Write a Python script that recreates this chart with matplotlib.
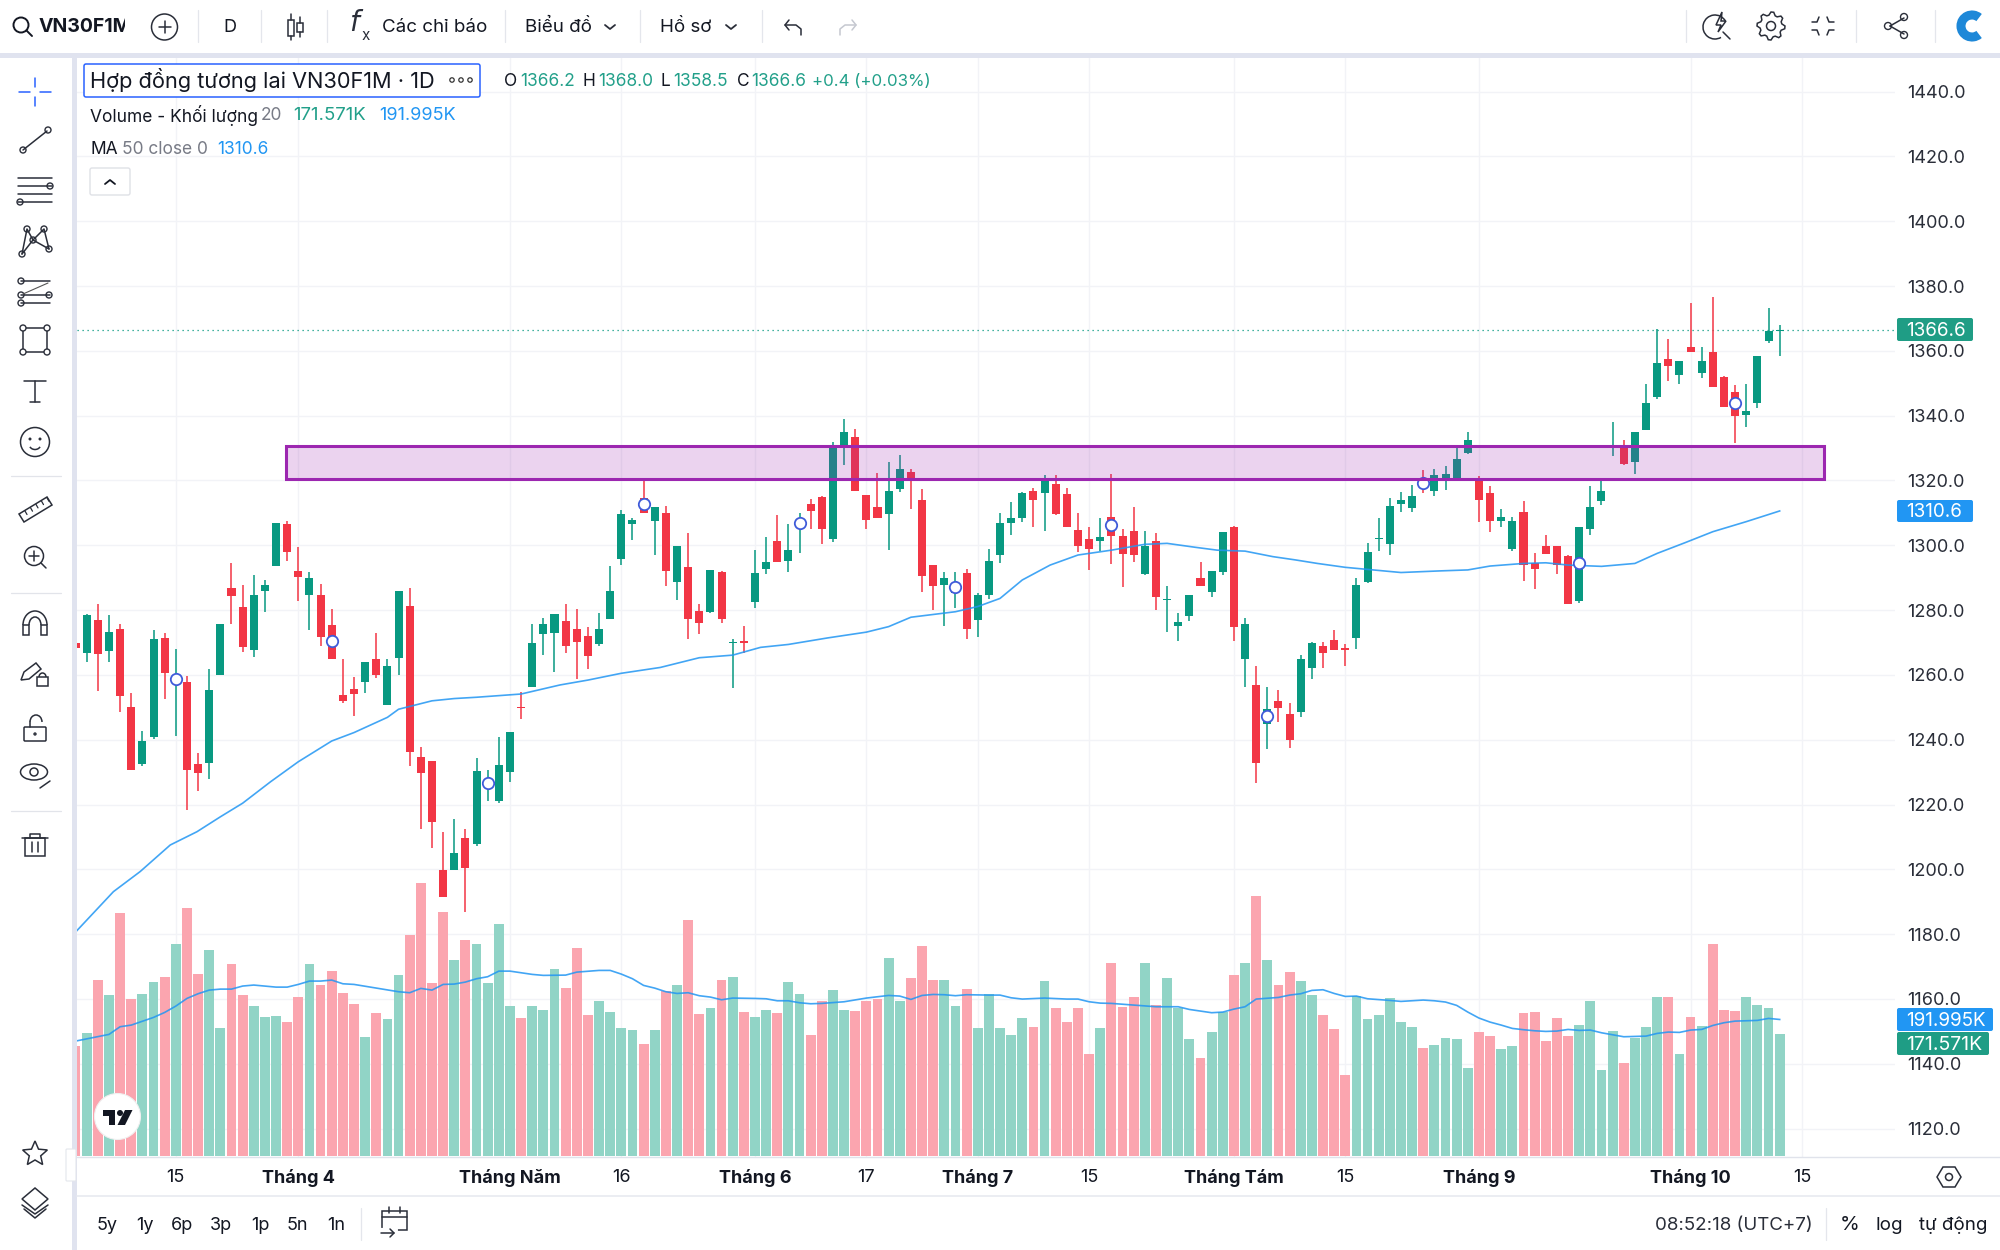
import matplotlib
matplotlib.use("Agg")
import matplotlib.pyplot as plt
from matplotlib.patches import Rectangle, Circle, FancyBboxPatch, Polygon, Ellipse, Arc
import numpy as np

plt.rcParams['font.family'] = ['Inter', 'DejaVu Sans']

# candles, index 0 is the one cut off by the left edge
opens = [1270.0, 1266.8, 1276.8, 1267.5, 1274.3, 1250.0, 1232.6, 1240.7, 1271.5, 1257.9,
         1257.8, 1232.6, 1232.8, 1260.1, 1286.9, 1281.0, 1267.8, 1285.8, 1293.7, 1306.7,
         1292.1, 1284.7, 1284.6, 1275.3, 1253.8, 1255.8, 1257.7, 1264.8, 1250.7, 1265.3,
         1281.4, 1234.6, 1233.5, 1199.9, 1199.9, 1209.8, 1207.8, 1225.7, 1221.2, 1230.1,
         1250.1, 1256.3, 1272.7, 1272.8, 1276.7, 1274.1, 1271.9, 1269.4, 1277.1, 1295.7,
         1306.6, 1314.5, 1307.4, 1310.1, 1288.6, 1293.3, 1279.6, 1279.5, 1291.9, 1269.7,
         1270.4, 1282.6, 1292.6, 1301.2, 1295.3, 1306.0, 1312.9, 1314.8, 1302.0, 1330.9,
         1333.4, 1315.4, 1311.9, 1309.8, 1317.5, 1322.5, 1314.0, 1293.8, 1287.7, 1285.2,
         1291.5, 1277.0, 1284.6, 1297.0, 1306.9, 1308.3, 1316.9, 1316.0, 1318.8, 1315.8,
         1304.7, 1301.8, 1301.3, 1308.7, 1302.9, 1304.3, 1291.1, 1301.2, 1283.2, 1275.1,
         1278.3, 1289.8, 1285.7, 1291.8, 1305.7, 1265.0, 1256.9, 1244.7, 1251.9, 1248.0,
         1248.7, 1262.1, 1268.9, 1270.7, 1268.1, 1271.4, 1288.6, 1301.8, 1300.5, 1312.6,
         1311.4, 1320.4, 1316.7, 1320.5, 1320.7, 1328.6, 1320.8, 1316.0, 1307.4, 1298.9,
         1310.4, 1294.4, 1299.8, 1299.8, 1296.8, 1282.8, 1305.0, 1313.8, 1330.0, 1330.6,
         1325.8, 1335.6, 1345.8, 1357.6, 1352.5, 1361.2, 1353.2, 1359.8, 1351.8, 1347.4,
         1340.1, 1343.8, 1363.2, 1366.2]
highs = [1270.6, 1278.8, 1281.9, 1278.5, 1275.7, 1254.3, 1242.8, 1273.9, 1272.8, 1267.9,
         1259.7, 1235.8, 1261.7, 1275.7, 1294.6, 1287.8, 1290.7, 1289.3, 1306.9, 1307.5,
         1299.4, 1291.8, 1288.0, 1280.2, 1264.8, 1259.5, 1264.1, 1272.8, 1264.8, 1285.9,
         1286.7, 1237.7, 1233.5, 1211.5, 1215.4, 1212.3, 1234.3, 1230.6, 1240.9, 1242.3,
         1254.8, 1275.6, 1277.5, 1278.7, 1281.9, 1280.2, 1274.9, 1279.2, 1293.6, 1310.9,
         1308.3, 1319.9, 1311.9, 1312.1, 1299.8, 1303.9, 1281.8, 1292.3, 1292.2, 1271.2,
         1275.1, 1298.6, 1302.7, 1309.5, 1306.6, 1309.9, 1314.2, 1315.2, 1331.9, 1338.9,
         1335.8, 1315.5, 1322.3, 1325.7, 1327.9, 1323.6, 1317.4, 1293.8, 1291.7, 1291.9,
         1292.6, 1285.4, 1298.9, 1309.9, 1313.3, 1316.6, 1317.7, 1321.8, 1321.8, 1317.8,
         1309.9, 1305.5, 1308.5, 1321.9, 1304.9, 1311.7, 1304.5, 1303.7, 1287.4, 1279.0,
         1284.8, 1294.7, 1292.2, 1304.1, 1306.0, 1277.7, 1262.9, 1256.2, 1255.3, 1251.2,
         1266.2, 1270.3, 1270.3, 1273.9, 1269.4, 1289.9, 1300.6, 1308.5, 1314.7, 1316.5,
         1318.6, 1323.2, 1323.4, 1324.5, 1329.9, 1334.9, 1321.4, 1318.4, 1311.1, 1308.8,
         1313.6, 1297.5, 1303.3, 1299.9, 1297.0, 1305.5, 1318.4, 1320.2, 1338.2, 1332.5,
         1335.0, 1349.9, 1366.7, 1363.7, 1356.8, 1374.7, 1361.3, 1376.7, 1352.4, 1349.4,
         1349.9, 1358.3, 1373.3, 1368.0]
lows = [1267.6, 1264.1, 1255.1, 1264.1, 1248.6, 1230.6, 1231.9, 1240.1, 1252.6, 1241.1,
        1218.3, 1224.3, 1228.0, 1260.1, 1275.7, 1267.0, 1265.4, 1279.5, 1293.7, 1295.2,
        1282.9, 1274.0, 1269.0, 1264.8, 1251.3, 1247.2, 1254.3, 1258.9, 1250.7, 1260.0,
        1232.0, 1212.3, 1206.5, 1191.5, 1199.9, 1186.9, 1207.2, 1221.0, 1220.4, 1226.8,
        1246.5, 1256.3, 1266.2, 1260.9, 1266.9, 1258.6, 1261.7, 1269.0, 1277.1, 1293.9,
        1301.6, 1309.9, 1296.9, 1287.5, 1283.0, 1271.2, 1272.5, 1279.2, 1276.0, 1256.1,
        1266.7, 1280.8, 1291.2, 1294.7, 1291.9, 1297.7, 1305.0, 1300.4, 1301.1, 1324.7,
        1316.9, 1305.0, 1308.3, 1298.7, 1316.3, 1311.2, 1285.6, 1280.0, 1275.0, 1280.5,
        1271.0, 1271.6, 1283.3, 1294.4, 1303.3, 1307.1, 1305.6, 1304.4, 1309.4, 1305.5,
        1298.0, 1292.4, 1298.2, 1294.2, 1287.2, 1294.9, 1290.9, 1279.9, 1273.2, 1270.6,
        1276.6, 1287.5, 1284.1, 1290.9, 1270.6, 1256.2, 1226.5, 1237.0, 1245.5, 1237.3,
        1247.1, 1258.7, 1262.1, 1267.7, 1262.9, 1267.9, 1288.3, 1298.2, 1297.1, 1310.2,
        1310.2, 1316.2, 1315.2, 1317.1, 1320.4, 1328.1, 1307.2, 1304.2, 1305.7, 1298.3,
        1289.0, 1286.4, 1297.4, 1291.1, 1281.8, 1282.1, 1303.1, 1312.5, 1327.7, 1324.7,
        1322.0, 1335.6, 1345.2, 1350.7, 1349.7, 1359.8, 1351.6, 1348.9, 1342.8, 1331.7,
        1336.6, 1342.5, 1362.3, 1358.5]
closes = [1268.2, 1278.4, 1266.5, 1273.1, 1253.6, 1230.6, 1239.5, 1271.1, 1260.7, 1259.4,
          1230.6, 1229.8, 1255.4, 1275.6, 1284.2, 1268.7, 1284.8, 1287.8, 1306.9, 1298.0,
          1290.2, 1289.9, 1271.7, 1264.8, 1251.8, 1254.1, 1264.0, 1259.9, 1262.8, 1285.9,
          1236.1, 1229.8, 1214.5, 1191.5, 1204.9, 1200.3, 1230.2, 1227.5, 1232.2, 1242.3,
          1249.8, 1269.7, 1275.7, 1278.7, 1268.9, 1270.2, 1265.8, 1274.3, 1285.9, 1309.6,
          1307.7, 1310.1, 1311.9, 1292.0, 1299.8, 1277.4, 1276.0, 1292.3, 1277.2, 1270.0,
          1269.7, 1291.5, 1294.8, 1294.7, 1298.5, 1308.0, 1310.7, 1305.0, 1330.7, 1334.9,
          1316.9, 1307.8, 1308.3, 1316.9, 1323.6, 1320.7, 1290.5, 1287.5, 1289.8, 1288.3,
          1274.1, 1284.7, 1295.1, 1306.8, 1308.5, 1316.1, 1313.9, 1320.4, 1309.7, 1305.5,
          1299.8, 1298.9, 1302.6, 1302.9, 1297.3, 1297.0, 1299.7, 1284.1, 1283.5, 1276.4,
          1284.8, 1287.5, 1292.2, 1304.1, 1274.9, 1275.7, 1232.8, 1249.4, 1249.8, 1239.9,
          1264.8, 1269.8, 1266.7, 1267.7, 1267.8, 1287.8, 1297.8, 1302.2, 1312.2, 1314.1,
          1315.2, 1317.6, 1321.6, 1322.0, 1326.5, 1332.5, 1313.9, 1307.5, 1308.8, 1307.5,
          1293.9, 1292.8, 1297.4, 1293.9, 1281.8, 1305.5, 1311.7, 1316.8, 1330.3, 1325.1,
          1335.0, 1343.8, 1356.4, 1355.2, 1356.8, 1359.8, 1357.0, 1348.9, 1342.8, 1339.8,
          1341.6, 1358.3, 1366.2, 1366.6]
# volume in K
volumes = [154.6, 173.3, 247.4, 225.8, 341.6, 220.2, 227.7, 244.6, 252.1, 297.5,
           349.1, 255.4, 289.6, 180.4, 269.9, 225.8, 210.8, 194.9, 196.8, 187.9,
           223.0, 269.9, 240.8, 260.5, 228.6, 214.1, 167.7, 200.5, 193.0, 253.9,
           310.2, 384.3, 243.6, 343.0, 276.0, 304.1, 297.5, 243.6, 325.7, 210.8,
           194.0, 210.8, 205.7, 262.4, 236.1, 292.9, 198.6, 218.3, 202.9, 180.4,
           176.6, 156.9, 176.6, 231.9, 240.8, 331.8, 199.6, 208.0, 247.4, 251.1,
           202.4, 194.9, 204.7, 201.5, 244.1, 227.7, 170.1, 217.9, 233.8, 204.7,
           203.8, 218.3, 221.1, 277.9, 217.4, 250.7, 295.7, 247.4, 247.4, 210.8,
           234.3, 180.4, 227.7, 179.4, 170.1, 194.0, 181.3, 245.5, 208.0, 187.9,
           207.6, 143.3, 179.4, 270.8, 209.0, 224.0, 270.8, 212.2, 250.7, 207.6,
           164.4, 137.2, 174.3, 202.9, 254.4, 270.8, 365.0, 276.0, 240.8, 259.1,
           245.5, 225.8, 197.7, 178.0, 113.8, 225.4, 192.6, 198.6, 222.1, 187.9,
           181.8, 151.8, 155.5, 166.3, 164.4, 123.7, 174.3, 168.6, 150.8, 154.6,
           200.5, 202.4, 161.6, 194.0, 168.6, 184.1, 217.4, 120.4, 176.1, 130.2,
           166.3, 180.8, 224.0, 223.0, 142.9, 195.8, 182.7, 298.0, 205.2, 203.3,
           224.0, 212.2, 208.0, 171.571]

# moving averages at these candle positions
ma_x = [0.1, 1, 3.4, 5.8, 8.5, 10.9, 13, 15, 17.5, 20, 23, 25, 28, 29, 32, 34, 36, 40, 43.5,
        46, 49, 52.5, 56, 59, 61.5, 64, 67.5, 71, 73, 75, 79, 81, 83, 85, 87.5, 90, 93, 96,
        98, 100.5, 102.5, 105, 107.5, 109.5, 111.5, 114, 116.5, 119, 122.5, 125, 127, 130,
        132, 134, 137, 140, 142, 144.5, 147, 150, 153]
ma_y = [1181.0, 1184.3, 1193.1, 1199.3, 1207.5, 1211.6, 1216.2, 1220.4, 1227.0, 1233.2, 1239.6,
        1242.2, 1246.9, 1249.4, 1252.0, 1252.7, 1253.1, 1254.1, 1256.9, 1258.4, 1260.5, 1262.3,
        1265.3, 1266.1, 1268.5, 1269.4, 1271.4, 1273.2, 1274.9, 1277.8, 1279.5, 1281.1, 1283.6,
        1289.3, 1293.9, 1297.0, 1298.5, 1300.3, 1300.6, 1299.4, 1298.5, 1298.2, 1296.5, 1295.5,
        1294.4, 1293.2, 1292.4, 1291.6, 1292.1, 1292.4, 1293.6, 1294.4, 1294.6, 1293.9, 1293.5,
        1294.4, 1297.5, 1300.8, 1304.2, 1307.3, 1310.6]
vol_ma_x = [0, 3, 4, 5, 7, 8, 9, 10, 11, 12, 13, 14, 15, 16, 18, 19, 20, 21, 22, 23, 24, 25, 27,
            29, 30, 31, 32, 33, 34, 35, 36, 37, 38, 39, 41, 42, 44, 45, 47, 48, 49, 50, 51, 52,
            53, 54, 55, 56, 57, 58, 59, 61, 62, 63, 64, 65, 66, 67, 69, 71, 73, 74, 75, 76, 77,
            78, 79, 80, 82, 83, 84, 85, 87, 89, 90, 91, 92, 93, 95, 97, 99, 100, 102, 103, 104,
            105, 106, 108, 109, 110, 111, 112, 113, 114, 115, 116, 118, 119, 121, 122, 123, 124,
            125, 126, 127, 128, 129, 130, 131, 132, 133, 134, 135, 136, 137, 138, 139, 141, 142,
            143, 144, 145, 146, 147, 148, 149, 151, 152, 153]
vol_ma_y = [161.6, 171.0, 181.8, 184.1, 194.9, 201.9, 210.8, 221.6, 228.2, 233.3, 234.7, 234.7,
            239.0, 240.4, 237.5, 237.5, 241.3, 246.0, 246.0, 247.4, 242.2, 241.3, 236.1, 231.0,
            229.6, 235.7, 233.3, 241.3, 241.8, 244.6, 249.3, 252.1, 260.0, 260.0, 255.4, 254.0,
            254.4, 258.6, 261.0, 261.0, 255.8, 249.3, 239.9, 236.1, 231.0, 228.6, 229.6, 225.4,
            223.5, 219.7, 222.1, 221.6, 221.1, 218.3, 218.3, 215.5, 214.1, 214.6, 216.9, 222.1,
            225.8, 224.9, 220.2, 225.8, 227.2, 226.8, 225.4, 226.8, 226.3, 226.3, 222.5, 220.7,
            222.1, 220.7, 220.7, 216.9, 215.0, 214.6, 212.2, 209.9, 209.9, 206.1, 201.5, 202.4,
            206.6, 209.9, 220.7, 223.0, 226.3, 228.2, 232.9, 233.8, 228.6, 224.4, 224.9, 221.1,
            218.8, 217.4, 219.3, 218.3, 216.5, 211.8, 202.4, 194.0, 188.3, 184.1, 179.4, 177.6,
            176.1, 175.2, 175.7, 178.0, 176.6, 177.1, 173.3, 170.5, 167.7, 168.6, 172.4, 174.3,
            173.8, 177.1, 178.0, 183.6, 187.4, 189.7, 190.7, 193.5, 192.0]

# the ringed candles every 14 sessions
ring_x = [9, 23, 37, 51, 65, 79, 93, 107, 121, 135, 149]
ring_y = [1258.6, 1270.4, 1226.7, 1312.6, 1307.0, 1287.0, 1306.2, 1247.3, 1319.1, 1294.4, 1343.8]

zone_x = [18.9, 157.0]
zone_y = [1320.5, 1330.55]
last_price = 1366.6

price_ticks = list(range(1120, 1460, 20))
date_ticks = [9, 20, 39, 49, 61, 71, 81, 91, 104, 114, 126, 145, 155]
date_labels = ['15', 'Tháng 4', 'Tháng Năm', '16', 'Tháng 6', '17', 'Tháng 7', '15',
               'Tháng Tám', '15', 'Tháng 9', 'Tháng 10', '15']

GREEN = '#089981'
RED = '#f23645'
PALE_GREEN = '#91d4c6'
PALE_RED = '#fba5af'
BLUE = '#2196f3'
DARK = '#131722'
GREY = '#787b86'
GRID = '#f2f3f7'
BAND = '#e0e3ef'
ICON = '#2a2e39'

W, H = 2000, 1250
X0, X1, Y0, Y1 = 77, 1895, 58, 1157
STEP = 11.138
PX_PRICE = 3.24
PX_VOL = 122 / 171.571

fig = plt.figure(figsize=(W / 100, H / 100), dpi=100, facecolor='white')
rect = [X0 / W, 1 - Y1 / H, (X1 - X0) / W, (Y1 - Y0) / H]

ax_vol = fig.add_axes(rect, zorder=1)
ax = fig.add_axes(rect, zorder=2)
ax.patch.set_alpha(0)

idx = np.arange(len(closes))
is_up = np.array(closes) >= np.array(opens)

# volume pane sits behind the price pane
ax_vol.bar(idx, volumes, width=0.88, color=[PALE_GREEN if u else PALE_RED for u in is_up])
ax_vol.plot(vol_ma_x, vol_ma_y, color=BLUE, lw=1.2, alpha=0.85)
ax_vol.set_ylim(-1 / PX_VOL, (Y1 - Y0 - 1) / PX_VOL)

col = [GREEN if u else RED for u in is_up]
ax.vlines(idx, lows, highs, colors=col, lw=1.1, zorder=3)
body_low = np.minimum(opens, closes)
body_h = np.abs(np.array(closes) - np.array(opens))
ax.bar(idx, np.maximum(body_h, 0.35), bottom=body_low, width=0.72, color=col, zorder=4)
ax.plot(ma_x, ma_y, color=BLUE, lw=1.2, alpha=0.85, zorder=5)
ax.plot(ring_x, ring_y, ls='none', marker='o', ms=8.2, mfc='white', mec='#3f5bd9', mew=1.3, zorder=6)
ax.axhline(last_price, color=GREEN, ls=(0, (1, 3)), lw=0.9, zorder=2)
ax.add_patch(Rectangle((zone_x[0], zone_y[0]), zone_x[1] - zone_x[0], zone_y[1] - zone_y[0],
                       facecolor=(0.612, 0.153, 0.69, 0.2), edgecolor='#9c27b0', lw=2.2, zorder=7))

x_left = 1 + (X0 - 86.7) / STEP
x_right = 1 + (X1 - 86.7) / STEP
for a in (ax, ax_vol):
    a.set_xlim(x_left, x_right)
    for s in a.spines.values():
        s.set_visible(False)
ax.set_ylim(1440 - (Y1 - 91.7) / PX_PRICE, 1440 + (91.7 - Y0) / PX_PRICE)

ax_vol.set_yticks([])
ax_vol.set_axisbelow(True)

ax.yaxis.tick_right()
ax.set_yticks(price_ticks, [f'{p:.1f}' for p in price_ticks])
ax.tick_params(axis='y', length=0, pad=9, labelsize=13, labelcolor='#2a2e39')
ax.set_xticks(date_ticks, date_labels)
ax.tick_params(axis='x', length=0, pad=8.5, labelsize=13, labelcolor=DARK)
for t in ax.get_xticklabels():
    if t.get_text().startswith('Tháng'):
        t.set_fontweight('bold')
# grid goes on the volume axes so it stays under the bars
ax_vol.set_xticks(date_ticks)
ax_vol.set_xticklabels([])
ax_vol.tick_params(axis='x', length=0)
ax_vol.grid(True, axis='x', color=GRID, lw=1.0)
for p in price_ticks:
    ax_vol.axhline((p - ax.get_ylim()[0]) * PX_PRICE / PX_VOL - 1 / PX_VOL, color=GRID, lw=1.0, zorder=0)

# screen furniture, in pixels
ui = fig.add_axes([0, 0, 1, 1], zorder=5)
ui.set_xlim(0, W)
ui.set_ylim(H, 0)
ui.axis('off')
ui.patch.set_alpha(0)


def line(xs, ys, c=ICON, lw=1.1):
    ui.plot(xs, ys, color=c, lw=lw, solid_capstyle='round')


def ring(x, y, r, c=ICON, lw=1.1, fill='none'):
    ui.add_patch(Circle((x, y), r, fc=fill, ec=c, lw=lw))


def label(x, y, s, c=DARK, size=13, ha='left', weight='normal'):
    return ui.text(x, y, s, color=c, fontsize=size, ha=ha, va='center', fontweight=weight)


def tag(x0, x1, y0, y1, s, c, size=13.6):
    ui.add_patch(FancyBboxPatch((x0 + 2, y0 + 2), x1 - x0 - 4, y1 - y0 - 4, boxstyle='round,pad=2',
                                fc=c, ec='none'))
    ui.text(x0 + 9, (y0 + y1) / 2 + 1, s, color='white', fontsize=size, ha='left', va='center')


def chevron(x, y, c=ICON, up=False):
    d = -4 if up else 4
    line([x - 5, x, x + 5], [y - d / 2, y + d / 2, y - d / 2], c, 1.3)


ui.add_patch(Rectangle((0, 53), W, 5, fc=BAND, ec='none'))
ui.add_patch(Rectangle((72, 58), 5, H - 58, fc=BAND, ec='none'))
line([77, W], [1157, 1157], '#e0e3eb', 1.0)
line([77, W], [1196, 1196], '#e8eaf0', 1.2)

# top toolbar
for x in (198, 261, 327, 504.5, 640, 762, 1686, 1856, 1935):
    line([x, x], [10, 42], '#e4e6ec', 0.9)
ring(21, 25, 7.5, DARK, 1.4)
line([26.5, 32], [30.5, 36], DARK, 1.4)
vn = label(39, 27, 'VN30F1M', DARK, 14, weight='bold')
vn.set_clip_on(True)
vn.set_clip_path(Rectangle((0, 0), 125, 60, transform=ui.transData))
ring(164.5, 27, 13, ICON)
line([164.5, 164.5], [21, 33])
line([158.5, 170.5], [27, 27])
label(229.5, 27, 'D', DARK, 13, 'center')
for x, y0, y1, b0, b1 in ((291, 14, 40, 20, 36), (300, 17, 37, 23, 32)):
    line([x, x], [y0, b0])
    line([x, x], [b1, y1])
    ui.add_patch(Rectangle((x - 3, b0), 6, b1 - b0, fc='none', ec=ICON, lw=1.1))
ui.text(357, 24, r'$f$', fontsize=20, color=ICON, ha='center', va='center')
ui.text(366, 36, 'x', fontsize=11, color=ICON, ha='center', va='center')
label(382, 27, 'Các chỉ báo', DARK, 13.5)
label(525, 27, 'Biểu đồ', DARK, 13.5)
chevron(610, 27)
label(660, 27, 'Hồ sơ', DARK, 13.5)
chevron(731, 27)
line([789, 785, 789], [20, 25, 30], ICON)
line([785, 796, 801, 801], [25, 25, 29, 35], ICON)
line([852, 856, 852], [20, 25, 30], '#c5c8d0')
line([856, 845, 840, 840], [25, 25, 29, 35], '#c5c8d0')

# top right icons
ui.add_patch(Arc((1715, 27), 24, 24, theta1=60, theta2=330, ec=ICON, lw=1.1))
ui.add_patch(Polygon([(1722, 12), (1716, 25), (1721, 25), (1718, 32), (1726, 21), (1721, 21)],
                     fc='none', ec=ICON, lw=1.1))
line([1723, 1730], [32, 39])
ring(1771, 26, 4.5, ICON)
gear_a = np.radians(np.arange(0, 360, 11.25))
gear_r = np.tile([14, 14, 11, 11], 8)
ui.add_patch(Polygon(np.column_stack([1771 + gear_r * np.cos(gear_a), 26 + gear_r * np.sin(gear_a)]),
                     fc='none', ec=ICON, lw=1.1))
for sx, sy in ((-1, -1), (1, -1), (-1, 1), (1, 1)):
    line([1823 + sx * 11, 1823 + sx * 6, 1823 + sx * 4], [26 + sy * 4, 26 + sy * 4, 26 + sy * 9], ICON, 1.1)
line([1890, 1904], [26, 18])
line([1890, 1904], [26, 34])
for x, y in ((1888, 26), (1904, 17), (1904, 35)):
    ring(x, y, 3.5, ICON, 1.0, 'white')
ui.add_patch(Arc((1972, 26), 22, 22, theta1=50, theta2=310, ec='#1e88d8', lw=6.5))

# legend rows
ui.add_patch(FancyBboxPatch((86, 66), 392, 29, boxstyle='round,pad=2', fc='white', ec='#2962ff', lw=1.1))
label(90, 80, 'Hợp đồng tương lai VN30F1M · 1D', DARK, 15.7)
for x in (452, 461, 470):
    ring(x, 80, 2.2, '#333', 0.9)
ohlc_label = [(504, 'O'), (582, 'H'), (660, 'L'), (737, 'C')]
ohlc_value = [(520, '1366.2'), (598, '1368.0'), (673, '1358.5'), (751, '1366.6')]
for x, s in ohlc_label:
    label(x, 82, s, DARK, 12.5)
for x, s in ohlc_value:
    label(x, 82, s, '#22a08a', 12.5)
label(812, 81, '+0.4 (+0.03%)', '#22a08a', 12.1)
label(90, 115, 'Volume - Khối lượng', DARK, 12.5)
label(261, 116, '20', GREY, 12.5)
label(293, 116, '171.571K', '#22a08a', 13.4)
label(379, 116, '191.995K', BLUE, 13)
label(90, 149, 'MA', DARK, 12.5)
label(122, 149, '50 close 0', GREY, 12.5)
label(217, 149, '1310.6', BLUE, 12.5)
ui.add_patch(FancyBboxPatch((92, 170), 36, 23, boxstyle='round,pad=2', fc='white', ec='#dfe1e6', lw=1))
chevron(110, 182, DARK, up=True)

# price tags
tag(1897, 1973, 318, 341, '1366.6', '#1f9d85')
tag(1897, 1973, 500, 522, '1310.6', BLUE)
tag(1897, 1993, 1008, 1031, '191.995K', BLUE)
tag(1897, 1989, 1032, 1055, '171.571K', '#1f9d85', 14)

# left toolbar
cx = 35
line([cx, cx], [78, 87], '#2962ff')
line([cx, cx], [97, 106], '#2962ff')
line([cx - 16, cx - 5], [92, 92], '#2962ff')
line([cx + 5, cx + 16], [92, 92], '#2962ff')
line([cx - 12, cx + 12], [150, 131])
ring(cx - 12, 150, 3, ICON, 1, 'white')
ring(cx + 13, 130, 3, ICON, 1, 'white')
for y in (178, 186, 194, 202):
    line([cx - 17, cx + 17], [y, y])
ring(cx + 15, 186, 3, ICON, 1, 'white')
ring(cx - 15, 202, 3, ICON, 1, 'white')
pts = [(cx - 13, 254), (cx - 8, 229), (cx - 2, 240), (cx + 9, 229), (cx + 14, 249)]
line([p[0] for p in pts], [p[1] for p in pts])
line([cx - 13, cx - 2, cx + 14], [254, 240, 249])
for p in pts:
    ring(p[0], p[1], 3, ICON, 1, 'white')
for y in (281, 295, 303):
    line([cx - 14, cx + 15], [y, y])
line([cx - 12, cx + 13], [294, 283], '#555', 0.8)
for x, y in ((cx - 14, 281), (cx - 14, 295), (cx + 14, 295), (cx - 14, 303)):
    ring(x, y, 3, ICON, 1, 'white')
ui.add_patch(Rectangle((cx - 12, 328), 24, 24, fc='none', ec=ICON, lw=1.1))
for x, y in ((cx - 12, 328), (cx + 12, 328), (cx - 12, 352), (cx + 12, 352)):
    ring(x, y, 3, ICON, 1, 'white')
line([cx - 11, cx + 11], [381, 381])
line([cx, cx], [381, 402])
line([cx - 5, cx + 5], [402, 402])
ring(cx, 442, 14.5, ICON)
ring(cx - 5, 439, 0.8, ICON, 1)
ring(cx + 5, 439, 0.8, ICON, 1)
ui.add_patch(Arc((cx, 445), 11, 9, theta1=20, theta2=160, ec=ICON, lw=1.1))
for y in (476, 593, 811):
    line([11, 61], [y, y], '#e2e4ea', 0.9)
ui.add_patch(Polygon([(cx - 16, 514), (cx + 12, 497), (cx + 17, 505), (cx - 11, 522)], fc='none', ec=ICON, lw=1.1))
for k in range(5):
    bx, by = cx - 10 + k * 5.5, 511 - k * 3.3
    line([bx, bx + 2], [by, by + 3.5], ICON, 0.9)
ring(cx - 1, 556, 9.5, ICON)
line([cx - 1, cx - 1], [551, 561])
line([cx - 6, cx + 4], [556, 556])
line([cx + 6, cx + 11], [563, 568])
ui.add_patch(Arc((cx, 625), 24, 28, theta1=180, theta2=360, ec=ICON, lw=1.1))
ui.add_patch(Arc((cx, 625), 12, 16, theta1=180, theta2=360, ec=ICON, lw=1.1))
for x0, x1 in ((cx - 12, cx - 6), (cx + 6, cx + 12)):
    ui.add_patch(Rectangle((x0, 625), x1 - x0, 10, fc='none', ec=ICON, lw=1.1))
ui.add_patch(Polygon([(cx - 14, 680), (cx - 11, 672), (cx + 1, 663), (cx + 6, 669), (cx - 6, 679)], fc='none', ec=ICON, lw=1.1))
ui.add_patch(Rectangle((cx + 2, 677), 11, 9, fc='none', ec=ICON, lw=1.1))
ui.add_patch(Arc((cx + 7.5, 677), 7, 8, theta1=180, theta2=360, ec=ICON, lw=1.1))
# open padlock
ui.add_patch(FancyBboxPatch((cx - 10, 728), 20, 12, boxstyle='round,pad=1', fc='none', ec=ICON, lw=1.1))
ui.add_patch(Arc((cx + 1, 722), 12, 14, theta1=180, theta2=360, ec=ICON, lw=1.1))
line([cx - 5, cx - 5], [722, 727])
ring(cx, 734, 1, ICON, 1)
ui.add_patch(Ellipse((cx - 1, 772), 27, 16, fc='none', ec=ICON, lw=1.1))
ring(cx - 1, 772, 4, ICON)
line([cx + 5, cx + 15], [788, 781], ICON, 1.1)
ui.add_patch(Rectangle((cx - 10, 838), 20, 18, fc='none', ec=ICON, lw=1.1))
line([cx - 13, cx + 13], [838, 838])
line([cx - 5, cx - 5, cx + 5, cx + 5], [838, 834, 834, 838])
line([cx - 3, cx - 3], [842, 852])
line([cx + 3, cx + 3], [842, 852])
star = [(35 + (13 if k % 2 == 0 else 6) * np.sin(k * np.pi / 5),
         1154 - (13 if k % 2 == 0 else 6) * np.cos(k * np.pi / 5)) for k in range(10)]
ui.add_patch(Polygon(star, fc='none', ec=ICON, lw=1.1))
ui.add_patch(Polygon([(35, 1188), (48, 1199), (35, 1210), (22, 1199)], fc='none', ec=ICON, lw=1.1))
line([22, 35, 48], [1205, 1214, 1205])
line([24, 35, 46], [1209, 1218, 1209])
ui.add_patch(FancyBboxPatch((67, 1150), 8, 30, boxstyle='round,pad=1', fc='white', ec='#e4e6ec', lw=0.8))

# tradingview badge
ui.add_patch(Circle((117.5, 1116.5), 23, fc='white', ec='#f0f0f0', lw=0.8))
ui.add_patch(Polygon([(102.5, 1110), (115, 1110), (115, 1125), (109, 1125), (109, 1116), (102.5, 1116)], fc=DARK, ec='none'))
ui.add_patch(Circle((120, 1113), 3, fc=DARK, ec='none'))
ui.add_patch(Polygon([(125, 1110), (132.5, 1110), (125, 1125), (117.5, 1125)], fc=DARK, ec='none'))

# bottom bar
for x, s in zip((107, 145, 182, 221, 260, 297, 336), ('5y', '1y', '6p', '3p', '1p', '5n', '1n')):
    label(x, 1225, s, DARK, 13, 'center')
line([361, 361], [1208, 1240], '#e4e6ec', 0.9)
ui.add_patch(Rectangle((382, 1211), 25, 19, fc='none', ec=ICON, lw=1.1))
line([382, 407], [1217, 1217])
line([389, 389], [1207, 1213])
line([400, 400], [1207, 1213])
line([381, 396], [1230, 1230], 'white', 3)
line([381, 394], [1233, 1233])
line([390, 394, 390], [1229, 1233, 1237])
ui.add_patch(Polygon([(1949 - 12, 1177), (1949 - 6, 1167), (1949 + 6, 1167), (1949 + 12, 1177), (1949 + 6, 1187), (1949 - 6, 1187)],
                     fc='none', ec=ICON, lw=1.1))
ring(1949, 1177, 3.5, ICON)
label(1655, 1225, '08:52:18 (UTC+7)', '#2a2e39', 13.5)
line([1826, 1826], [1208, 1240], '#e4e6ec', 0.9)
label(1850, 1225, '%', DARK, 14.5, 'center')
label(1889, 1225, 'log', DARK, 13.5, 'center')
label(1953, 1225, 'tự động', DARK, 13.5, 'center')

fig.savefig('out.png', dpi=100)
